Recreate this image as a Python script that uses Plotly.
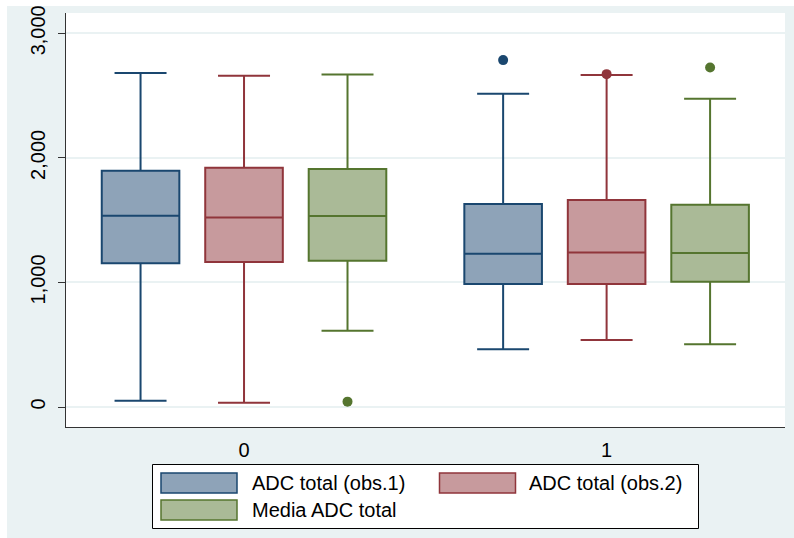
import plotly.graph_objects as go

# Groups on the x axis
groups = [0, 1]
group_labels = ["0", "1"]

series_names = ["ADC total (obs.1)", "ADC total (obs.2)", "Media ADC total"]

# Box statistics per series, one value per group
obs1_lower = [51, 463]
obs1_q1 = [1153, 987]
obs1_median = [1535, 1230]
obs1_q3 = [1897, 1629]
obs1_upper = [2681, 2515]
obs1_out_group = [1]
obs1_out_value = [2785]

obs2_lower = [35, 538]
obs2_q1 = [1164, 987]
obs2_median = [1522, 1241]
obs2_q3 = [1921, 1661]
obs2_upper = [2659, 2665]
obs2_out_group = [1]
obs2_out_value = [2672]

media_lower = [612, 503]
media_q1 = [1174, 1006]
media_median = [1533, 1236]
media_q3 = [1910, 1624]
media_upper = [2670, 2475]
media_out_group = [0, 1]
media_out_value = [43, 2726]

y_ticks = [0, 1000, 2000, 3000]
y_tick_text = ["0", "1,000", "2,000", "3,000"]

# Stata s2color-like palette
line_colors = ["#1a476f", "#90353b", "#55752f"]
fill_colors = ["#8ea3b8", "#c79a9d", "#aaba97"]
bg_color = "#eaf2f3"

series = [
    (obs1_lower, obs1_q1, obs1_median, obs1_q3, obs1_upper, obs1_out_group, obs1_out_value),
    (obs2_lower, obs2_q1, obs2_median, obs2_q3, obs2_upper, obs2_out_group, obs2_out_value),
    (media_lower, media_q1, media_median, media_q3, media_upper, media_out_group, media_out_value),
]

# layout geometry (pixels)
W, H = 794, 538
ML, MR, MT, MB = 66, 9, 13, 111
PW, PH = W - ML - MR, H - MT - MB

offset = 0.2854      # spacing between boxes within a group (x units)
box_width = 0.214

fig = go.Figure()

for i, (lo, q1, med, q3, up, og, ov) in enumerate(series):
    pos = [g + (i - 1) * offset for g in groups]
    fig.add_trace(go.Box(
        x=pos, q1=q1, median=med, q3=q3, lowerfence=lo, upperfence=up,
        width=box_width, whiskerwidth=0.67,
        fillcolor=fill_colors[i],
        line=dict(color=line_colors[i], width=2),
        name=series_names[i], showlegend=False, hoverinfo="skip",
    ))
    fig.add_trace(go.Scatter(
        x=[g + (i - 1) * offset for g in og], y=ov, mode="markers",
        marker=dict(color=line_colors[i], size=10, line=dict(width=0)),
        showlegend=False, hoverinfo="skip",
    ))


def px_x(x):
    return (x - ML) / PW


def px_y(y):
    return (H - MB - y) / PH


shapes = [
    # white outer strip on left and top, light bluish graph region elsewhere
    dict(type="rect", xref="paper", yref="paper", layer="below",
         x0=px_x(0), x1=px_x(W), y0=px_y(0), y1=px_y(H), fillcolor="white", line=dict(width=0)),
    dict(type="rect", xref="paper", yref="paper", layer="below",
         x0=px_x(7), x1=px_x(W), y0=px_y(6), y1=px_y(MT), fillcolor=bg_color, line=dict(width=0)),
    dict(type="rect", xref="paper", yref="paper", layer="below",
         x0=px_x(7), x1=px_x(ML), y0=px_y(6), y1=px_y(H), fillcolor=bg_color, line=dict(width=0)),
    dict(type="rect", xref="paper", yref="paper", layer="below",
         x0=px_x(W - MR), x1=px_x(W), y0=px_y(6), y1=px_y(H), fillcolor=bg_color, line=dict(width=0)),
    dict(type="rect", xref="paper", yref="paper", layer="below",
         x0=px_x(7), x1=px_x(W), y0=px_y(H - MB), y1=px_y(H), fillcolor=bg_color, line=dict(width=0)),
    # legend frame
    dict(type="rect", xref="paper", yref="paper",
         x0=px_x(152.5), x1=px_x(698.5), y0=px_y(464.5), y1=px_y(528.5),
         fillcolor="white", line=dict(color="black", width=1)),
]

annotations = []
legend_slots = [(161, 473, 250), (439.5, 473, 527), (161, 500, 250)]
for i, (sx, sy, tx) in enumerate(legend_slots):
    shapes.append(dict(type="rect", xref="paper", yref="paper",
                       x0=px_x(sx), x1=px_x(sx + 76), y0=px_y(sy), y1=px_y(sy + 20),
                       fillcolor=fill_colors[i], line=dict(color=line_colors[i], width=1.5)))
    annotations.append(dict(xref="paper", yref="paper", x=px_x(tx), y=px_y(sy + 10),
                            text=series_names[i], showarrow=False, xanchor="left", yanchor="middle",
                            font=dict(size=20, color="black")))

fig.update_layout(
    width=W, height=H,
    margin=dict(l=ML, r=MR, t=MT, b=MB, pad=0, autoexpand=False),
    paper_bgcolor=bg_color, plot_bgcolor="white",
    font=dict(family="Liberation Sans, Arial, sans-serif", color="black"),
    shapes=shapes, annotations=annotations,
    showlegend=False,
)

fig.update_xaxes(
    range=[-0.491, 1.492], tickvals=groups, ticktext=group_labels,
    ticks="", showgrid=False, zeroline=False, automargin=False,
    showline=True, linecolor="#333333", linewidth=1.3,
    tickfont=dict(size=20), ticklabelstandoff=5,
)
fig.update_yaxes(
    range=[-160.6, 3163], tickvals=y_ticks, ticktext=y_tick_text,
    tickangle=-90, ticks="outside", ticklen=7, tickcolor="#333333", tickwidth=1.3,
    showgrid=True, gridcolor=bg_color, gridwidth=1.5, zeroline=False, automargin=False,
    showline=True, linecolor="#333333", linewidth=1.3,
    tickfont=dict(size=20), ticklabelstandoff=5,
)

fig.write_html("out.html")
